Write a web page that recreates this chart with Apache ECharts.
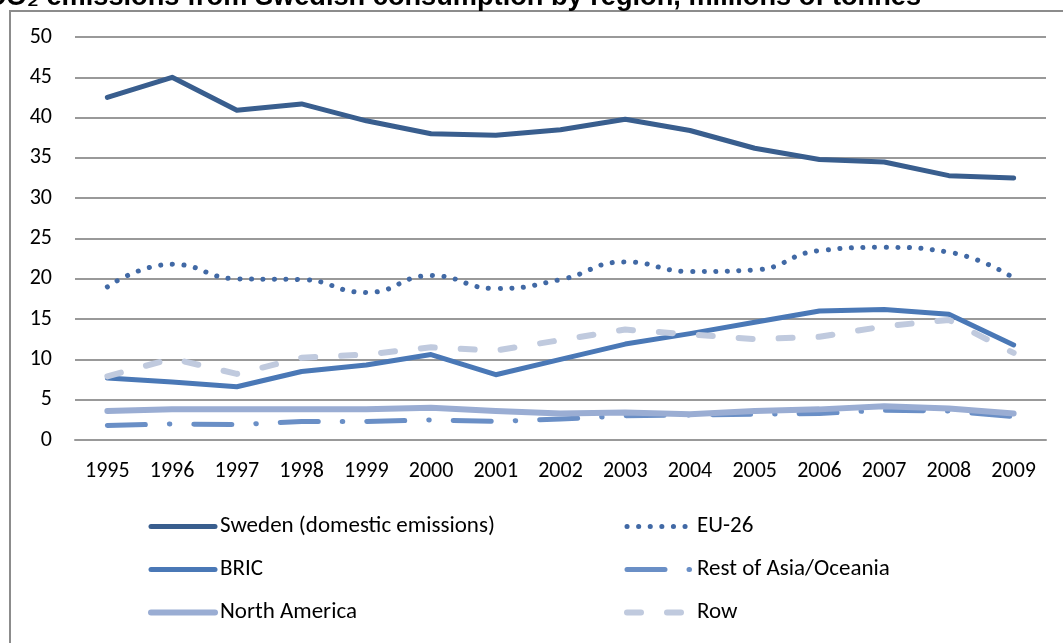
<!DOCTYPE html>
<html>
<head>
<meta charset="utf-8">
<script src="https://cdn.jsdelivr.net/npm/echarts@6/dist/echarts.min.js"></script>
<style>
  html, body { margin: 0; padding: 0; background: #fff; }
  #chart { width: 1063px; height: 643px; }
</style>
</head>
<body>
<div id="chart"></div>
<script>
// CO2 emissions from Swedish consumption by region, millions of tonnes
const years = ['1995','1996','1997','1998','1999','2000','2001','2002','2003','2004','2005','2006','2007','2008','2009'];

const sweden       = [42.5, 45.0, 40.9, 41.7, 39.6, 38.0, 37.8, 38.5, 39.8, 38.4, 36.2, 34.8, 34.5, 32.8, 32.5];
const eu26         = [19.0, 21.8, 20.0, 19.9, 18.3, 20.4, 18.8, 19.9, 22.1, 20.9, 21.1, 23.5, 23.9, 23.3, 20.1];
const bric         = [7.7, 7.2, 6.6, 8.5, 9.3, 10.6, 8.1, 10.0, 11.9, 13.2, 14.6, 16.0, 16.2, 15.6, 11.8];
const restAsia     = [1.8, 2.0, 1.9, 2.3, 2.3, 2.5, 2.3, 2.6, 3.0, 3.1, 3.2, 3.3, 3.7, 3.6, 2.9];
const northAmerica = [3.6, 3.8, 3.8, 3.8, 3.8, 4.0, 3.6, 3.3, 3.4, 3.2, 3.6, 3.8, 4.2, 3.9, 3.3];
const row          = [7.9, 10.1, 8.2, 10.2, 10.6, 11.5, 11.1, 12.4, 13.7, 13.1, 12.5, 12.8, 14.1, 14.9, 10.8];

const yTicks = { min: 0, max: 50, step: 5 };

const FONT = 'Carlito, Lato, "Liberation Sans", sans-serif';

const chart = echarts.init(document.getElementById('chart'), null, { renderer: 'canvas' });

function lineSeries(name, data, color, width, type, smooth, z) {
  return {
    name, type: 'line', data, smooth: smooth,
    showSymbol: false, symbol: 'none', z: z,
    lineStyle: { color, width, type, cap: 'round', join: 'round' },
    itemStyle: { color },
    emphasis: { disabled: true }
  };
}

const legendText = { fontFamily: FONT, fontSize: 23, color: '#000' };
const legendLine = { width: 'inherit', type: 'inherit', cap: 'round' };

chart.setOption({
  animation: false,
  backgroundColor: '#fff',
  graphic: [
    {
      type: 'rect', silent: true, z: -1,
      shape: { x: 10, y: 11, width: 1100, height: 700 },
      style: { fill: 'none', stroke: '#8c8c8c', lineWidth: 2 }
    },
    {
      type: 'text', silent: true,
      x: -14, y: 11,
      style: {
        text: 'CO₂ emissions from Swedish consumption by region, millions of tonnes',
        font: 'bold 27.2px "Liberation Sans", Arial, sans-serif',
        fill: '#000', textVerticalAlign: 'bottom'
      }
    }
  ],
  legend: [
    {
      orient: 'vertical', left: 143, top: 510,
      itemWidth: 64, itemHeight: 14, itemGap: 20,
      data: ['Sweden (domestic emissions)', 'BRIC', 'North America'],
      textStyle: Object.assign({ padding: [0, 0, 0, 0] }, legendText),
      itemStyle: { opacity: 0 },
      lineStyle: legendLine,
      selectedMode: false
    },
    {
      orient: 'vertical', left: 619, top: 510,
      itemWidth: 66, itemHeight: 14, itemGap: 20,
      data: ['EU-26', 'Rest of Asia/Oceania', 'Row'],
      textStyle: Object.assign({ padding: [0, 0, 0, -1] }, legendText),
      itemStyle: { opacity: 0 },
      lineStyle: legendLine,
      selectedMode: false
    }
  ],
  grid: { left: 75, right: 17, top: 37, bottom: 203, containLabel: false },
  xAxis: {
    type: 'category', data: years, boundaryGap: true,
    axisLine: { show: true, lineStyle: { color: '#999', width: 2 } },
    axisTick: { show: false },
    axisLabel: { fontFamily: FONT, fontSize: 22, color: '#000', margin: 20 }
  },
  yAxis: {
    type: 'value', min: yTicks.min, max: yTicks.max, interval: yTicks.step,
    axisLine: { show: false }, axisTick: { show: false },
    axisLabel: { fontFamily: FONT, fontSize: 22, color: '#000', margin: 23 },
    splitLine: { lineStyle: { color: '#999', width: 2 } }
  },
  series: [
    lineSeries('Sweden (domestic emissions)', sweden, '#395e8e', 5, 'solid', false, 6),
    lineSeries('EU-26', eu26, '#4169a5', 5, [0.1, 11.5], true, 5),
    lineSeries('BRIC', bric, '#4a78b6', 5, 'solid', false, 4),
    lineSeries('Rest of Asia/Oceania', restAsia, '#6a8fc6', 5, [38, 24, 0.5, 24], false, 3),
    lineSeries('North America', northAmerica, '#9aadd3', 6, 'solid', false, 4),
    lineSeries('Row', row, '#c0cade', 6, [14, 26], false, 5)
  ]
});
</script>
</body>
</html>
